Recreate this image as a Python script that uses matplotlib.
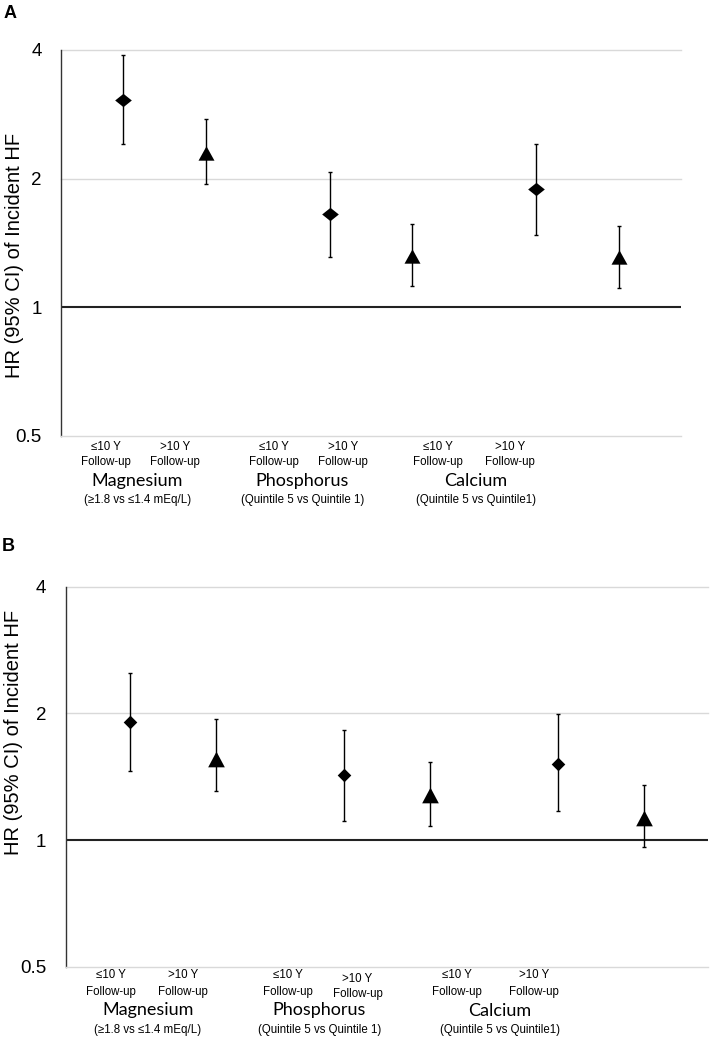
import numpy as np
import matplotlib
matplotlib.use("Agg")
import matplotlib.pyplot as plt
from matplotlib.path import Path

plt.rcParams['font.family'] = ['Liberation Sans', 'DejaVu Sans']

# ---------------- data ----------------
positions = [1.5, 3.5, 6.5, 8.5, 11.5, 13.5]
followup = ["≤10 Y", ">10 Y", "≤10 Y", ">10 Y", "≤10 Y", ">10 Y"]
is_short = [True, False, True, False, True, False]
groups = ["Magnesium", "Phosphorus", "Calcium"]
group_sub = ["(≥1.8 vs ≤1.4 mEq/L)", "(Quintile 5 vs Quintile 1)", "(Quintile 5 vs Quintile1)"]

hr_A = [3.06, 2.30, 1.65, 1.32, 1.89, 1.31]
lo_A = [2.41, 1.94, 1.31, 1.12, 1.48, 1.11]
hi_A = [3.90, 2.76, 2.07, 1.57, 2.41, 1.55]

hr_B = [1.91, 1.56, 1.43, 1.28, 1.52, 1.13]
lo_B = [1.46, 1.31, 1.11, 1.08, 1.17, 0.96]
hi_B = [2.50, 1.94, 1.83, 1.53, 1.99, 1.35]

yticks = [0.5, 1, 2, 4]
ytick_labels = ["0.5", "1", "2", "4"]

# ---------------- layout ----------------
W, H = 711, 1049
fig = plt.figure(figsize=(W / 100, H / 100), dpi=100)


def fx(x):
    return x / W


def fy(y):
    return 1 - y / H


def make_axes(l, t, r, b):
    return fig.add_axes([fx(l), fy(b), fx(r) - fx(l), fy(t) - fy(b)])


panels = [
    dict(box=(61, 50, 681, 436), hr=hr_A, lo=lo_A, hi=hi_A, letter="A", letter_xy=(10, 14),
         ylab_xy=(14.5, 255),
         sub_x=[106, 175, 274, 343, 437.5, 509.7], sub_dy=[0, 0, 0, 0, 0, 0],
         grp_x=[137.5, 302.5, 476],
         y1=446.5, y2=462.5, y3=481.5, y4=500.5,
         dia=[(-1, 0), (0, 0.8), (1, 0), (0, -0.8)], dia_ms=12,
         tri=[(-1, -0.9), (1, -0.9), (0, 0.9)], tri_ms=11.5),
    dict(box=(65.7, 586.7, 708, 966.7), hr=hr_B, lo=lo_B, hi=hi_B, letter="B", letter_xy=(8.5, 546.5),
         ylab_xy=(14, 732.5),
         sub_x=[111, 183, 288, 357.5, 457, 534], sub_dy=[0, 0, 0, 3, 0, 0],
         grp_x=[148, 319.5, 499.5],
         y1=975.5, y2=991.5, y3=1010.5, y4=1029.5,
         dia=[(-1, 0), (0, 1), (1, 0), (0, -1)], dia_ms=9.8,
         tri=[(-1, -0.94), (1, -0.94), (0, 0.94)], tri_ms=12),
]

for p in panels:
    ax = make_axes(*p['box'])
    ax.set_yscale('log', base=2)
    ax.set_ylim(0.5, 4)
    ax.set_xlim(0, 15)
    ax.set_yticks(yticks)
    ax.set_yticklabels(ytick_labels, fontsize=13.5)
    ax.yaxis.set_minor_locator(matplotlib.ticker.NullLocator())
    ax.tick_params(axis='y', length=0, pad=14)
    ax.set_xticks([])
    for s in ['top', 'right']:
        ax.spines[s].set_visible(False)
    ax.spines['left'].set_color('#333333')
    ax.spines['left'].set_linewidth(1.0)
    ax.spines['bottom'].set_color('#d9d9d9')
    ax.spines['bottom'].set_linewidth(1.0)

    for g in [2, 4]:
        ax.axhline(g, color='#d9d9d9', lw=1.0, zorder=1, clip_on=False)
    ax.axhline(1, color='#222222', lw=1.5, zorder=2)

    hr = np.array(p['hr'])
    lo = np.array(p['lo'])
    hi = np.array(p['hi'])
    x = np.array(positions)
    ax.errorbar(x, hr, yerr=[hr - lo, hi - hr], fmt='none', ecolor='black',
                elinewidth=1.0, capsize=1.7, capthick=1.0, zorder=3)

    dia = Path(p['dia'] + [p['dia'][0]], closed=True)
    tri = Path(p['tri'] + [p['tri'][0]], closed=True)
    short = np.array(is_short)
    ax.plot(x[short], hr[short], linestyle='none', marker=dia, markersize=p['dia_ms'],
            color='black', markeredgewidth=0, zorder=4)
    ax.plot(x[~short], hr[~short], linestyle='none', marker=tri, markersize=p['tri_ms'],
            color='black', markeredgewidth=0, zorder=4)

    # labels under the axis
    for i, lab in enumerate(followup):
        dy = p['sub_dy'][i]
        fig.text(fx(p['sub_x'][i]), fy(p['y1'] + dy), lab, ha='center', va='center', fontsize=8.3)
        fig.text(fx(p['sub_x'][i]), fy(p['y2'] + dy), "Follow-up", ha='center', va='center', fontsize=8.3)
    for j, g in enumerate(groups):
        fig.text(fx(p['grp_x'][j]), fy(p['y3']), g, ha='center', va='center', fontsize=13,
                 family=['Lato', 'DejaVu Sans'])
        fig.text(fx(p['grp_x'][j]), fy(p['y4']), group_sub[j], ha='center', va='center', fontsize=8.3)

    fig.text(fx(p['ylab_xy'][0]), fy(p['ylab_xy'][1]), "HR (95% CI) of Incident HF",
             rotation=90, ha='center', va='center', fontsize=14.5)
    fig.text(fx(p['letter_xy'][0]), fy(p['letter_xy'][1]), p['letter'], ha='center', va='center',
             fontsize=13, fontweight='bold')

fig.savefig("out.png", dpi=100)
